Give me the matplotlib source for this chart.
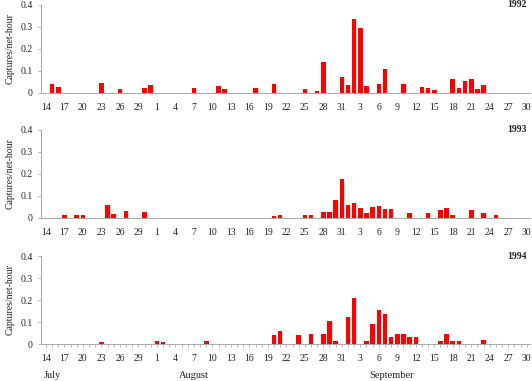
import numpy as np
import matplotlib.pyplot as plt
from matplotlib.ticker import MultipleLocator

# Daily captures per net-hour, 14 July - 30 September
# dates given as (month, day)
dates_1992 = [(7, 15), (7, 16), (7, 23), (7, 26), (7, 30), (7, 31), (8, 7), (8, 11), (8, 12),
              (8, 17), (8, 20), (8, 25), (8, 27), (8, 28), (8, 31), (9, 1), (9, 2), (9, 3),
              (9, 4), (9, 6), (9, 7), (9, 10), (9, 13), (9, 14), (9, 15), (9, 18), (9, 19),
              (9, 20), (9, 21), (9, 22), (9, 23)]
vals_1992 = [0.042, 0.027, 0.044, 0.018, 0.021, 0.038, 0.021, 0.030, 0.018,
             0.021, 0.040, 0.018, 0.011, 0.139, 0.074, 0.035, 0.338, 0.295,
             0.032, 0.039, 0.109, 0.042, 0.027, 0.021, 0.014, 0.064, 0.021,
             0.053, 0.064, 0.017, 0.035]

dates_1993 = [(7, 17), (7, 19), (7, 20), (7, 24), (7, 25), (7, 27), (7, 30), (8, 20), (8, 21),
              (8, 25), (8, 26), (8, 28), (8, 29), (8, 30), (8, 31), (9, 1), (9, 2), (9, 3),
              (9, 4), (9, 5), (9, 6), (9, 7), (9, 8), (9, 11), (9, 14), (9, 16), (9, 17),
              (9, 18), (9, 21), (9, 23), (9, 25)]
vals_1993 = [0.015, 0.012, 0.012, 0.059, 0.020, 0.030, 0.029, 0.009, 0.012,
             0.012, 0.012, 0.029, 0.029, 0.081, 0.175, 0.059, 0.067, 0.046,
             0.021, 0.049, 0.056, 0.041, 0.041, 0.021, 0.021, 0.035, 0.046,
             0.012, 0.038, 0.024, 0.012]

dates_1994 = [(7, 23), (8, 1), (8, 2), (8, 9), (8, 20), (8, 21), (8, 24), (8, 26), (8, 28),
              (8, 29), (8, 30), (9, 1), (9, 2), (9, 4), (9, 5), (9, 6), (9, 7), (9, 8),
              (9, 9), (9, 10), (9, 11), (9, 12), (9, 16), (9, 17), (9, 18), (9, 19), (9, 23)]
vals_1994 = [0.011, 0.014, 0.011, 0.014, 0.042, 0.060, 0.042, 0.045, 0.045,
             0.107, 0.015, 0.123, 0.209, 0.015, 0.092, 0.155, 0.137, 0.033,
             0.045, 0.045, 0.032, 0.032, 0.015, 0.045, 0.015, 0.015, 0.020]

years = ["1992", "1993", "1994"]
months = ["July", "August", "September"]
month_pos = [1, 24, 56]

# day-of-season index: 14 July = 0
month_offset = {7: -14, 8: 17, 9: 48}
n_days = 79


def to_index(dates):
    return np.array([month_offset[m] + d for m, d in dates])


# tick labels every 3 days
tick_idx = np.arange(0, n_days, 3)
tick_lab = []
for i in tick_idx:
    if i <= 17:
        tick_lab.append(str(i + 14))
    elif i <= 48:
        tick_lab.append(str(i - 17))
    else:
        tick_lab.append(str(i - 48))

plt.rcParams['font.family'] = ['Liberation Serif', 'DejaVu Serif']
axcol = "#a8a8a8"
txtcol = "#222222"

fig = plt.figure(figsize=(5.32, 3.81), dpi=100)
bottoms = [0.756, 0.428, 0.097]
data = [(dates_1992, vals_1992), (dates_1993, vals_1993), (dates_1994, vals_1994)]

for k in range(3):
    ax = fig.add_axes([0.077, bottoms[k], 0.919, 0.231])
    x = to_index(data[k][0])
    y = np.array(data[k][1])
    # faint shadow, then bar
    ax.bar(x + 0.12, y, width=0.75, color="#e2e2e2", zorder=2)
    ax.bar(x, y, width=0.75, color="#ff0000", zorder=3)

    ax.set_xlim(-0.8, 78.5)
    ax.set_ylim(0, 0.4)
    ax.set_xticks(tick_idx)
    ax.set_xticklabels(tick_lab)
    ax.set_yticks([0, 0.1, 0.2, 0.3, 0.4])
    ax.set_yticklabels(["0", "0.1", "0.2", "0.3", "0.4"])
    ax.tick_params(axis="both", labelsize=7, colors=axcol, labelcolor=txtcol,
                   length=2.5, width=0.6)
    if k == 2:
        # only the bottom panel shows daily tick marks
        ax.xaxis.set_minor_locator(MultipleLocator(1))
        ax.tick_params(axis="x", which="minor", length=2.5, width=0.6, colors=axcol)
        ax.tick_params(axis="x", pad=5)
    else:
        ax.tick_params(axis="x", length=0, pad=7.5)
    for s in ["top", "right"]:
        ax.spines[s].set_visible(False)
    for s in ["left", "bottom"]:
        ax.spines[s].set_color(axcol)
        ax.spines[s].set_linewidth(0.7)
    ax.set_ylabel("Captures/net-hour", fontsize=7, color=txtcol, labelpad=4)
    ax.text(78, 0.4, years[k], ha="right", va="center", fontsize=7,
            fontweight="bold", color=txtcol)

    if k == 2:
        for m, p in zip(months, month_pos):
            ax.text(p, -0.36, m, transform=ax.get_xaxis_transform(),
                    ha="center", va="center", fontsize=7.5, color=txtcol)

fig.savefig("out.png", dpi=100)
